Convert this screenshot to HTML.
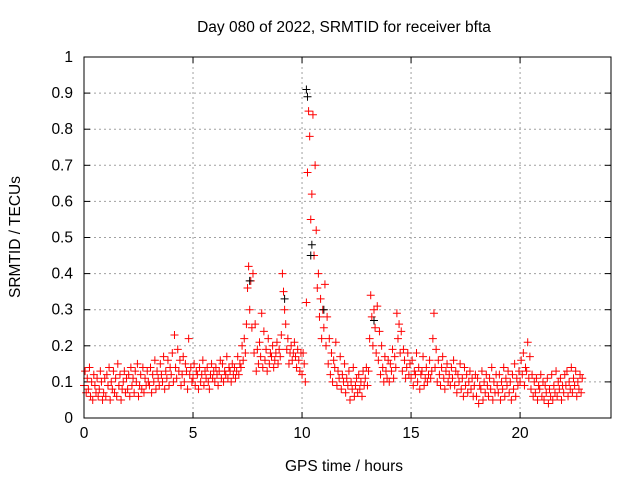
<!DOCTYPE html>
<html><head><meta charset="utf-8"><style>
html,body{margin:0;padding:0;background:#fff;}
svg text{font-family:"Liberation Sans",sans-serif;font-size:15.5px;fill:#000;}
</style></head><body>
<svg id="chart" width="640" height="480" viewBox="0 0 640 480" xmlns="http://www.w3.org/2000/svg">
<rect width="640" height="480" fill="#fff"/>
<text x="344" y="32" text-anchor="middle">Day 080 of 2022, SRMTID for receiver bfta</text>
<text x="0" y="0" text-anchor="middle" transform="translate(20,237) rotate(-90)">SRMTID / TECUs</text>
<text x="344" y="471" text-anchor="middle">GPS time / hours</text>
<g id="grid"></g>
<g id="ticks"></g>
<g id="red"></g>
<g id="black"></g>
<rect x="84" y="57" width="527" height="361" fill="none" stroke="#000" stroke-width="1"/>
</svg>
<script>
const xTicks=[0,5,10,15,20];
const yTicks=[0,0.1,0.2,0.3,0.4,0.5,0.6,0.7,0.8,0.9,1];
const yTickLabels=["0","0.1","0.2","0.3","0.4","0.5","0.6","0.7","0.8","0.9","1"];
const stepHours=0.1;
const redValues=[
0.09,0.13,0.07,0.11,0.08,0.14,0.06,0.10,0.05,0.12,0.09,0.07,0.11,0.06,0.08,0.13,0.10,0.05,0.07,0.11,
0.06,0.12,0.09,0.14,0.05,0.10,0.08,0.13,0.07,0.11,0.06,0.15,0.09,0.12,0.05,0.08,0.10,0.13,0.07,0.11,
0.08,0.12,0.06,0.14,0.09,0.11,0.07,0.13,0.10,0.15,0.06,0.09,0.12,0.08,0.14,0.07,0.11,0.09,0.13,0.10,
0.09,0.14,0.07,0.12,0.10,0.16,0.08,0.13,0.11,0.09,0.15,0.12,0.10,0.17,0.08,0.13,0.11,0.16,0.09,0.14,
0.12,0.18,0.10,0.23,0.14,0.11,0.19,0.13,0.16,0.09,0.12,0.17,0.10,0.15,0.13,0.08,0.22,0.12,0.14,0.10,
0.11,0.15,0.09,0.13,0.12,0.08,0.14,0.10,0.12,0.16,0.09,0.13,0.11,0.14,0.10,0.08,0.12,0.15,0.11,0.13,
0.10,0.14,0.12,0.09,0.13,0.16,0.11,0.15,0.10,0.13,0.12,0.17,0.11,0.14,0.13,0.10,0.15,0.12,0.14,0.11,
0.13,0.17,0.12,0.15,0.14,0.20,0.16,0.22,0.18,0.26,0.36,0.42,0.30,0.38,0.25,0.40,0.18,0.26,0.13,0.19,
0.15,0.21,0.17,0.29,0.14,0.24,0.16,0.19,0.13,0.22,0.15,0.18,0.17,0.20,0.14,0.16,0.18,0.21,0.15,0.19,
0.17,0.23,0.40,0.35,0.30,0.26,0.19,0.22,0.15,0.18,0.20,0.16,0.18,0.21,0.17,0.14,0.19,0.16,0.13,0.18,
0.12,0.18,0.15,0.10,0.32,0.68,0.85,0.78,0.55,0.62,0.84,0.45,0.70,0.52,0.36,0.40,0.28,0.33,0.22,0.30,
0.25,0.37,0.20,0.28,0.15,0.22,0.12,0.18,0.10,0.16,0.14,0.21,0.09,0.13,0.11,0.17,0.08,0.12,0.10,0.15,
0.07,0.11,0.09,0.13,0.05,0.10,0.08,0.14,0.06,0.09,0.11,0.07,0.12,0.08,0.10,0.06,0.13,0.09,0.11,0.14,
0.09,0.13,0.22,0.34,0.28,0.20,0.30,0.25,0.18,0.31,0.16,0.24,0.12,0.20,0.14,0.10,0.17,0.13,0.11,0.16,
0.10,0.15,0.13,0.19,0.11,0.17,0.14,0.29,0.22,0.26,0.18,0.24,0.13,0.19,0.16,0.11,0.14,0.18,0.12,0.15,
0.11,0.16,0.09,0.13,0.12,0.18,0.10,0.14,0.08,0.12,0.13,0.17,0.09,0.11,0.14,0.10,0.12,0.16,0.11,0.13,
0.22,0.29,0.14,0.19,0.10,0.16,0.12,0.09,0.14,0.17,0.11,0.08,0.13,0.15,0.10,0.12,0.09,0.14,0.11,0.16,
0.09,0.13,0.07,0.12,0.10,0.15,0.08,0.11,0.06,0.14,0.09,0.12,0.07,0.10,0.13,0.08,0.11,0.06,0.09,0.12,
0.06,0.11,0.04,0.09,0.08,0.13,0.05,0.10,0.07,0.12,0.09,0.06,0.11,0.08,0.14,0.05,0.10,0.07,0.12,0.09,
0.07,0.12,0.05,0.10,0.08,0.14,0.06,0.11,0.09,0.13,0.07,0.10,0.05,0.12,0.08,0.15,0.06,0.11,0.09,0.13,
0.10,0.16,0.12,0.18,0.09,0.14,0.13,0.21,0.11,0.17,0.08,0.12,0.06,0.10,0.07,0.11,0.05,0.09,0.08,0.12,
0.06,0.10,0.05,0.09,0.07,0.11,0.04,0.08,0.06,0.12,0.05,0.09,0.07,0.13,0.06,0.10,0.08,0.11,0.05,0.09,
0.07,0.12,0.09,0.13,0.06,0.10,0.08,0.14,0.07,0.11,0.09,0.13,0.06,0.10,0.08,0.12,0.07,0.11
];
const blackTimes=[7.6,9.2,10.2,10.25,10.4,10.45,11.0,13.3];
const blackValues=[0.38,0.33,0.91,0.89,0.45,0.48,0.30,0.27];

const X0=84,X1=611,Y0=418,Y1=57,XMAX=24.17;
function xs(v){return X0+v/XMAX*(X1-X0);}
function ys(v){return Y0-v*(Y0-Y1);}
const NS="http://www.w3.org/2000/svg";
function mk(tag,attrs,parent){const e=document.createElementNS(NS,tag);for(const k in attrs)e.setAttribute(k,attrs[k]);parent.appendChild(e);return e;}
const grid=document.getElementById('grid'),ticks=document.getElementById('ticks');
xTicks.forEach(t=>{
 const x=xs(t);
 if(t>0){const g=mk('line',{x1:x,x2:x,y1:Y1,y2:Y0,stroke:'#a0a0a0','stroke-dasharray':'2,3'},grid);
 
 }
 mk('line',{x1:x,x2:x,y1:Y0,y2:Y0-6,stroke:'#000'},ticks);
 mk('line',{x1:x,x2:x,y1:Y1,y2:Y1+6,stroke:'#000'},ticks);
 const lb=mk('text',{x:x,y:Y0+20,'text-anchor':'middle'},ticks);lb.textContent=String(t);
 
 
});
yTicks.forEach((t,i)=>{
 const y=ys(t);
 if(t>0&&t<1){const g=mk('line',{x1:X0,x2:X1,y1:y,y2:y,stroke:'#a0a0a0','stroke-dasharray':'2,3'},grid);
 
 }
 mk('line',{x1:X0,x2:X0+6,y1:y,y2:y,stroke:'#000'},ticks);
 mk('line',{x1:X1,x2:X1-6,y1:y,y2:y,stroke:'#000'},ticks);
 const lb=mk('text',{x:X0-11,y:y+5,'text-anchor':'end'},ticks);lb.textContent=yTickLabels[i];
 
 
});
function cross(parent,t,v,col){
 const x=xs(t),y=ys(v);
 const p=mk('path',{d:`M${x-4} ${y}H${x+4}M${x} ${y-4}V${y+4}`,stroke:col,'stroke-width':1,fill:'none'},parent);
 
 
}
const red=document.getElementById('red');
redValues.forEach((v,i)=>{cross(red,Math.floor(i/2)*stepHours+(i%2)*0.05,v,'#ff0000');});
const black=document.getElementById('black');
blackTimes.forEach((t,i)=>cross(black,t,blackValues[i],'#000'));
</script>
</body></html>
